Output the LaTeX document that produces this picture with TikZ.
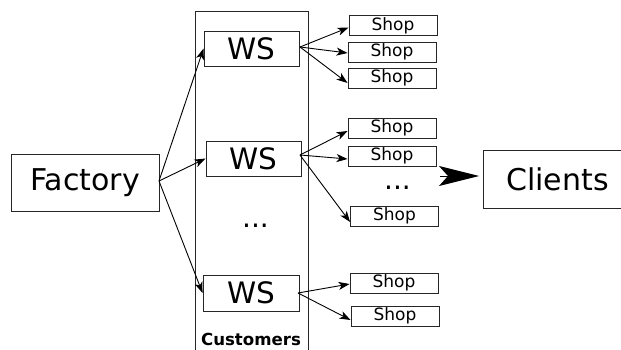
\documentclass[tikz,border=0pt]{standalone}
\usepackage{fontspec}
\setmainfont{DejaVu Sans}
\usetikzlibrary{arrows.meta}
\begin{document}
\begin{tikzpicture}[x=1pt,y=-1pt,
  box/.style={draw=black!85,line width=0.9pt,inner sep=0pt,align=center},
  bigbox/.style={box,font=\fontsize{30}{32}\selectfont},
  wsbox/.style={box,minimum width=95pt,minimum height=35pt,font=\fontsize{29.5}{31}\selectfont},
  shopbox/.style={box,minimum width=88pt,minimum height=20pt,font=\fontsize{17}{19}\selectfont},
  conn/.style={line width=0.9pt,-{Stealth[length=11pt,width=8pt,inset=3pt]}},
  dots/.style={anchor=base,inner sep=0pt,font=\fontsize{28}{30}\selectfont}]
\useasboundingbox (0,0) rectangle (621,350);
% Customers container
\node[draw=black!85,line width=0.9pt,minimum width=113.5pt,minimum height=360pt,anchor=north west,inner sep=0pt] (cust) at (194.5,11) {};
\node[anchor=base,inner sep=0pt,font=\bfseries\fontsize{16.6}{18}\selectfont] (custlabel) at (251,345) {Customers};
% main nodes
\node[bigbox,minimum width=148pt,minimum height=57pt] (factory) at (85,182.5) {Factory};
\node[wsbox] (ws1) at (251.5,48.5) {WS};
\node[wsbox] (ws2) at (253.5,158.5) {WS};
\node[wsbox,minimum width=96pt,minimum height=36pt] (ws3) at (251,293) {WS};
\node[dots] (dotsa) at (255.5,227.5) {...};
\node[shopbox] (s1) at (393,25.5) {Shop};
\node[shopbox] (s2) at (392,52) {Shop};
\node[shopbox] (s3) at (392,78) {Shop};
\node[shopbox] (s4) at (392,128) {Shop};
\node[shopbox] (s5) at (392,156) {Shop};
\node[shopbox] (s6) at (394.5,216) {Shop};
\node[shopbox] (s7) at (394,283) {Shop};
\node[shopbox] (s8) at (395,316) {Shop};
\node[dots] (dotsb) at (397.5,189.5) {...};
\node[bigbox,minimum width=148pt,minimum height=58pt,anchor=west] (clients) at (483,179) {Clients};
% connectors
\coordinate (fout) at (159,181);
\draw[conn] (fout) -- (ws1.west);
\draw[conn] (fout) -- (ws2.west);
\draw[conn] (fout) -- (ws3.west);
\coordinate (w1out) at (300,47);
\coordinate (w2out) at (300,155);
\coordinate (w3out) at (298,293);
\draw[conn] (w1out) -- ([yshift=-2pt]s1.west);
\draw[conn] (w1out) -- ([yshift=-1pt]s2.west);
\draw[conn] (w1out) -- ([yshift=-5pt]s3.west);
\draw[conn] (w2out) -- ([yshift=-3pt]s4.west);
\draw[conn] (w2out) -- ([yshift=-3pt]s5.west);
\draw[conn] (w2out) -- ([yshift=-6pt]s6.west);
\draw[conn] (w3out) -- ([yshift=-1pt]s7.west);
\draw[conn] (w3out) -- ([yshift=-4pt]s8.west);
\coordinate (bigstart) at (440,176);
\draw[line width=1pt,-{Stealth[length=40pt,width=20pt,inset=9pt]},shorten >=4pt] (bigstart) -- (clients.west |- bigstart);
\end{tikzpicture}
\end{document}
